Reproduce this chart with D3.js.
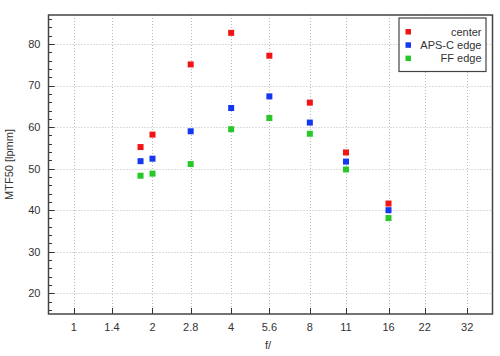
<!DOCTYPE html>
<html><head><meta charset="utf-8">
<script src="https://cdn.jsdelivr.net/npm/d3@7"></script>
<style>
body{margin:0;background:#fff;}
text{font-family:"Liberation Sans",Arial,sans-serif;}
</style></head>
<body><svg id="c" width="500" height="356"></svg>
<script>
const apertures = [1.8, 2, 2.8, 4, 5.6, 8, 11, 16];
const center = [55.2, 58.2, 75.1, 82.7, 77.2, 65.9, 53.9, 41.6];
const apscEdge = [51.8, 52.4, 59.0, 64.6, 67.4, 61.1, 51.7, 40.0];
const ffEdge = [48.3, 48.8, 51.1, 59.5, 62.2, 58.4, 49.8, 38.1];
const seriesNames = ["center", "APS-C edge", "FF edge"];
const seriesColors = ["#f01414", "#1438f0", "#28c828"];
const xTicks = [1, 1.4, 2, 2.8, 4, 5.6, 8, 11, 16, 22, 32];
const yTicks = [20, 30, 40, 50, 60, 70, 80];

const svg = d3.select("#c");
const L = 48.5, R = 492.5, T = 15, B = 314;
const x = d3.scaleLog().domain([0.8, 40]).range([L, R]);
const y = d3.scaleLinear().domain([15, 87]).range([B, T]);

// grid
const g = svg.append("g");
g.selectAll(".vg").data(xTicks).enter().append("line")
  .attr("x1", d => Math.round(x(d)) + 0.5).attr("x2", d => Math.round(x(d)) + 0.5)
  .attr("y1", T).attr("y2", B)
  .attr("stroke", "#bbb").attr("stroke-dasharray", "1,2");
g.selectAll(".hg").data(yTicks).enter().append("line")
  .attr("y1", d => Math.round(y(d)) + 0.5).attr("y2", d => Math.round(y(d)) + 0.5)
  .attr("x1", L).attr("x2", R)
  .attr("stroke", "#bbb").attr("stroke-dasharray", "1,2");

// minor y ticks
const minorY = d3.range(16, 87, 2).filter(v => v % 10 !== 0);
g.selectAll(".my").data(minorY).enter().append("line")
  .attr("y1", d => Math.round(y(d)) + 0.5).attr("y2", d => Math.round(y(d)) + 0.5)
  .attr("x1", L).attr("x2", L + 3.5).attr("stroke", "#333");
g.selectAll(".My").data(yTicks).enter().append("line")
  .attr("y1", d => Math.round(y(d)) + 0.5).attr("y2", d => Math.round(y(d)) + 0.5)
  .attr("x1", L).attr("x2", L + 6).attr("stroke", "#333");
g.selectAll(".Mx").data(xTicks).enter().append("line")
  .attr("x1", d => Math.round(x(d)) + 0.5).attr("x2", d => Math.round(x(d)) + 0.5)
  .attr("y1", B).attr("y2", B - 6).attr("stroke", "#333");

// labels
g.selectAll(".yl").data(yTicks).enter().append("text")
  .attr("x", L - 8).attr("y", d => y(d)).attr("dy", "0.35em")
  .attr("text-anchor", "end").attr("font-size", 11).attr("fill", "#333")
  .text(d => d);
g.selectAll(".xl").data(xTicks).enter().append("text")
  .attr("x", d => x(d)).attr("y", B + 17)
  .attr("text-anchor", "middle").attr("font-size", 11).attr("fill", "#333")
  .text(d => d);

// frame
svg.append("rect").attr("x", L).attr("y", T).attr("width", R - L).attr("height", B - T)
  .attr("fill", "none").attr("stroke", "#444").attr("stroke-width", 1.5);

svg.append("text").attr("transform", "translate(13," + ((T + B) / 2) + ") rotate(-90)")
  .attr("text-anchor", "middle").attr("font-size", 11).attr("fill", "#333").text("MTF50 [lpmm]");
svg.append("text").attr("x", 268).attr("y", 349).attr("text-anchor", "middle")
  .attr("font-size", 11).attr("fill", "#333").text("f/");

// data
const all = [center, apscEdge, ffEdge];
all.forEach((vals, si) => {
  svg.append("g").selectAll("rect").data(vals).enter().append("rect")
    .attr("x", (d, i) => x(apertures[i]) - 3).attr("y", d => y(d) - 3)
    .attr("width", 6).attr("height", 6).attr("fill", seriesColors[si]);
});

// legend
const lg = svg.append("g");
lg.append("rect").attr("x", 399).attr("y", 18).attr("width", 87).attr("height", 53.5)
  .attr("fill", "#fff").attr("stroke", "#444").attr("stroke-width", 1.2);
seriesNames.forEach((n, i) => {
  lg.append("rect").attr("x", 405.5).attr("y", 29 + i * 13.3).attr("width", 5.5).attr("height", 5.5)
    .attr("fill", seriesColors[i]);
  lg.append("text").attr("x", 481.5).attr("y", 32 + i * 13.3).attr("dy", "0.35em")
    .attr("text-anchor", "end").attr("font-size", 11).attr("fill", "#333").text(n);
});
</script></body></html>
